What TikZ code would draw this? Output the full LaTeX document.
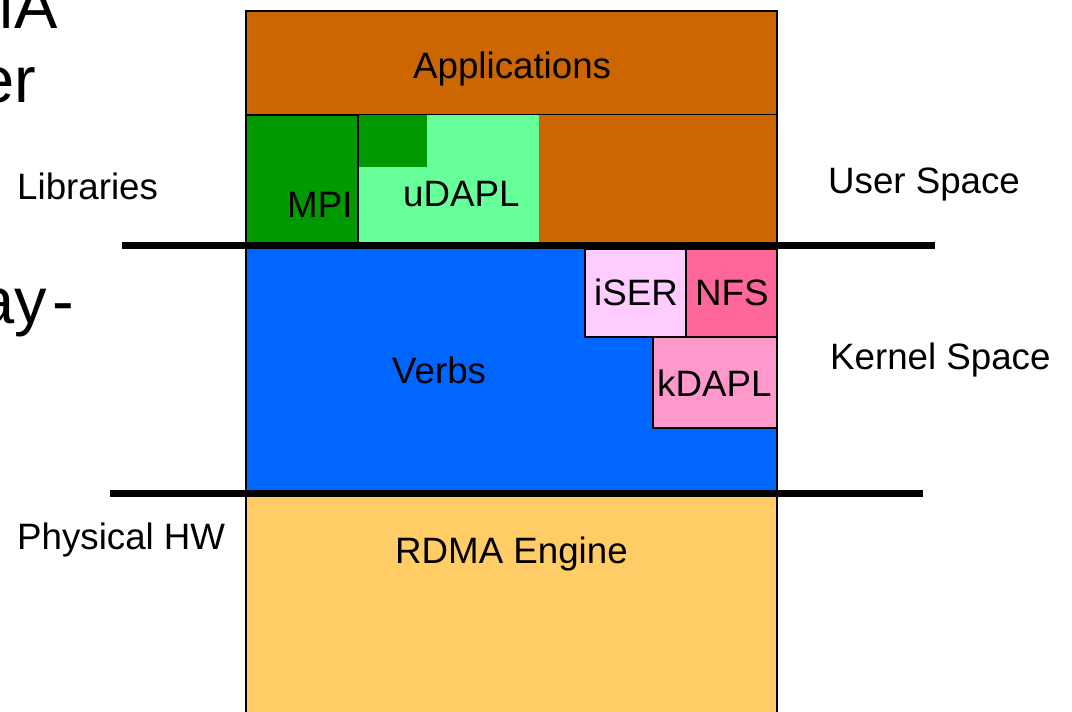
\documentclass[tikz,border=0pt]{standalone}
\usepackage{fontspec}
\setmainfont{Liberation Sans}
\definecolor{appc}{HTML}{CC6600}
\definecolor{dgreen}{HTML}{009900}
\definecolor{lgreen}{HTML}{66FF99}
\definecolor{verbc}{HTML}{0066FF}
\definecolor{iserc}{HTML}{FFCCFF}
\definecolor{nfsc}{HTML}{FF6699}
\definecolor{kdaplc}{HTML}{FF99CC}
\definecolor{rdmac}{HTML}{FFCC66}
\begin{document}
\begin{tikzpicture}[x=1pt,y=-1pt,
  lbl/.style={anchor=base west,inner sep=0pt,font=\fontsize{36.7}{40}\selectfont},
  big/.style={anchor=base east,inner sep=0pt,font=\fontsize{65}{70}\selectfont},
  boxline/.style={draw=black,line width=1.5pt},
  sep/.style={line width=7pt}]
\useasboundingbox (0,0) rectangle (1072,712);
\clip (0,0) rectangle (1072,712);
% fills
\path[fill=appc,boxline] (246,11) rectangle (777,115);
\path[fill=appc] (539,115) rectangle (777,244);
\path[fill=lgreen] (358,115) rectangle (539,244);
\path[fill=dgreen] (358,115) rectangle (427,167);
\path[fill=dgreen,boxline] (246,115) rectangle (358,244);
\path[fill=verbc] (246,246) rectangle (777,493);
\path[fill=iserc,boxline] (585,249) rectangle (686,337);
\path[fill=nfsc,boxline] (686,249) rectangle (777,337);
\path[fill=kdaplc,boxline] (653,337) rectangle (777,428);
\path[fill=rdmac] (246,493) rectangle (777,720);
% outer verticals
\draw[line width=2pt] (246,11) -- (246,720);
\draw[line width=2pt] (777,11) -- (777,720);
% separator lines
\coordinate (s1a) at (122,245.5);
\coordinate (s1b) at (935,245.5);
\coordinate (s2a) at (110,493);
\coordinate (s2b) at (923,493);
\draw[sep] (s1a) -- (s1b);
\draw[sep] (s2a) -- (s2b);
% labels
\node[lbl] (apps) at (413,78) {Applications};
\node[lbl] (mpi) at (287,217) {MPI};
\node[lbl] (udapl) at (403,206) {uDAPL};
\node[lbl] (iser) at (594,305) {iSER};
\node[lbl] (nfs) at (695,305) {NFS};
\node[lbl] (kdapl) at (657,396) {kDAPL};
\node[lbl] (verbs) at (392,383) {Verbs};
\node[lbl] (rdma) at (395,563) {RDMA Engine};
\node[lbl] (libs) at (17,199) {Libraries};
\node[lbl] (phys) at (17,549) {Physical HW};
\node[lbl] (user) at (828,193) {User Space};
\node[lbl] (kern) at (830,369) {Kernel Space};
% clipped large text
\node[big] (t1) at (58,28) {MA};
\node[big] (t2) at (36,102) {er};
\node[big] (t3) at (74,323) {\spaceskip=5.5pt ay -};
\end{tikzpicture}
\end{document}
